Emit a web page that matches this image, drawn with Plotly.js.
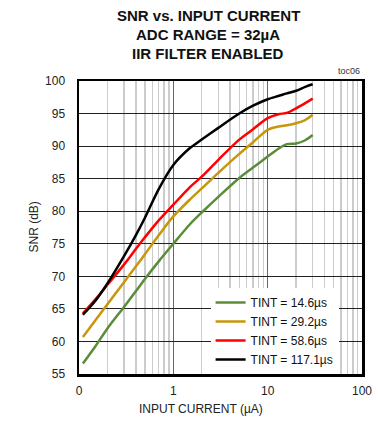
<!DOCTYPE html>
<html>
<head>
<meta charset="utf-8">
<script src="https://cdn.plot.ly/plotly-3.0.1.min.js"></script>
<style>
html,body{margin:0;padding:0;background:#fff;}
#chart{width:378px;height:429px;}
</style>
</head>
<body>
<div id="chart"></div>
<script>
var current = [0.11, 0.15, 0.2, 0.3, 0.4, 0.5, 0.7, 1, 1.5, 2, 3, 5, 7, 10, 13, 16, 20, 25, 30];
var snr146 = [56.6, 59.3, 62.0, 65.3, 67.7, 69.6, 72.3, 75.0, 78.0, 79.8, 82.2, 85.1, 86.7, 88.4, 89.6, 90.3, 90.4, 90.9, 91.7];
var snr292 = [60.7, 63.3, 65.7, 69.1, 71.5, 73.4, 76.3, 79.2, 81.8, 83.5, 85.9, 88.8, 90.6, 92.5, 93.0, 93.2, 93.5, 94.0, 94.8];
var snr586 = [64.3, 66.5, 68.7, 71.8, 74.2, 76.0, 78.6, 81.0, 83.7, 85.3, 87.9, 91.0, 92.6, 94.3, 94.9, 95.1, 95.8, 96.6, 97.3];
var snr1171 = [64.1, 66.3, 68.9, 73.1, 76.3, 79.0, 83.4, 87.1, 89.7, 91.0, 92.8, 95.0, 96.2, 97.2, 97.7, 98.1, 98.5, 99.1, 99.5];
var seriesNames = ["TINT = 14.6µs", "TINT = 29.2µs", "TINT = 58.6µs", "TINT = 117.1µs"];
var seriesColors = ["#5B8C3A", "#C8960A", "#FF0000", "#000000"];
var xTickVals = [0.1, 1, 10, 100];
var xTickText = ["0", "1", "10", "100"];
var yTickVals = [55, 60, 65, 70, 75, 80, 85, 90, 95, 100];

var minorVals = [];
[0.1, 1, 10].forEach(function (d) { for (var k = 2; k <= 9; k++) minorVals.push(d * k); });

var font = "'Liberation Sans', Arial, sans-serif";
var allSeries = [snr146, snr292, snr586, snr1171];
var traces = allSeries.map(function (s, i) {
  return {
    x: current, y: s, type: "scatter", mode: "lines", name: seriesNames[i],
    line: {color: seriesColors[i], width: 2.5, shape: "spline", smoothing: 0.8}
  };
});

var layout = {
  width: 378, height: 429,
  margin: {l: 79, r: 16, t: 81, b: 55},
  paper_bgcolor: "#fff", plot_bgcolor: "#fff",
  font: {family: font, size: 12, color: "#222"},
  showlegend: true,
  legend: {
    x: 0.465, y: 0.0, xanchor: "left", yanchor: "bottom",
    bgcolor: "#fff", borderwidth: 0,
    font: {family: font, size: 12, color: "#111"},
    tracegroupgap: 0, itemwidth: 30
  },
  xaxis: {
    type: "log", range: [-1, 2],
    tickmode: "array", tickvals: xTickVals, ticktext: xTickText,
    showgrid: true, gridcolor: "#666", gridwidth: 1.4,
    minor: {tickmode: "array", tickvals: minorVals, showgrid: true, gridcolor: "#cccccc", gridwidth: 1.5, ticks: "", ticklen: 0},
    showline: true, linecolor: "#000", linewidth: 2.5, mirror: true,
    ticks: "", zeroline: false, ticklabelstandoff: 4,
    tickfont: {family: font, size: 12, color: "#222"}
  },
  yaxis: {
    range: [55, 100],
    tickmode: "array", tickvals: yTickVals,
    showgrid: true, gridcolor: "#222", gridwidth: 1,
    showline: true, linecolor: "#000", linewidth: 2.5, mirror: true,
    ticks: "", zeroline: false, ticklabelstandoff: 9,
    tickfont: {family: font, size: 12, color: "#222"}
  },
  annotations: [
    {text: "<b>SNR vs. INPUT CURRENT</b>", xref: "paper", yref: "paper", x: 0.456, y: 1, yshift: 66, showarrow: false, font: {family: font, size: 15, color: "#111"}, xanchor: "center", yanchor: "middle"},
    {text: "<b>ADC RANGE = 32µA</b>", xref: "paper", yref: "paper", x: 0.456, y: 1, yshift: 47, showarrow: false, font: {family: font, size: 15, color: "#111"}, xanchor: "center", yanchor: "middle"},
    {text: "<b>IIR FILTER ENABLED</b>", xref: "paper", yref: "paper", x: 0.456, y: 1, yshift: 28, showarrow: false, font: {family: font, size: 15, color: "#111"}, xanchor: "center", yanchor: "middle"},
    {text: "toc06", xref: "paper", yref: "paper", x: 1, y: 1, yshift: 10, showarrow: false, font: {family: font, size: 9, color: "#333"}, xanchor: "right", yanchor: "middle"},
    {text: "INPUT CURRENT (µA)", xref: "paper", yref: "paper", x: 0.43, y: 0, yshift: -35, showarrow: false, font: {family: font, size: 12, color: "#222"}, xanchor: "center", yanchor: "middle"},
    {text: "SNR (dB)", xref: "paper", yref: "paper", x: 0, xshift: -46, y: 0.5, showarrow: false, textangle: -90, font: {family: font, size: 12, color: "#222"}, xanchor: "center", yanchor: "middle"}
  ]
};

Plotly.newPlot("chart", traces, layout, {displayModeBar: false, staticPlot: true});
</script>
</body>
</html>
